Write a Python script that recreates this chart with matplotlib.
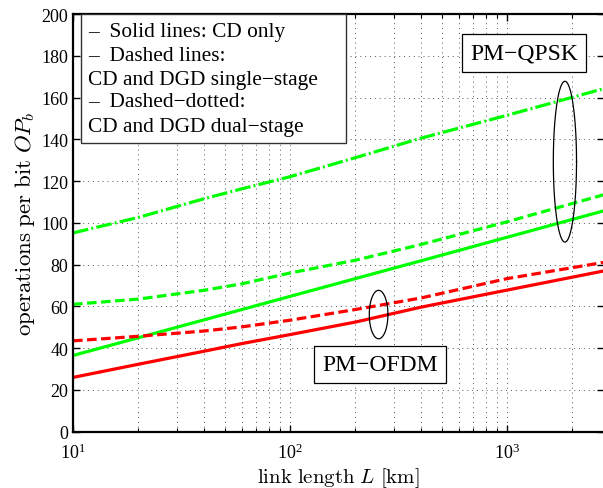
import numpy as np
import matplotlib
matplotlib.use("Agg")
import matplotlib.pyplot as plt
from matplotlib.patches import Rectangle
from matplotlib.ticker import LogLocator, MultipleLocator, NullFormatter

plt.rcParams['font.family'] = 'serif'
plt.rcParams['font.serif'] = ['Liberation Serif', 'DejaVu Serif']
plt.rcParams['mathtext.fontset'] = 'cm'

# ------------------------- data -------------------------
# link length L [km]
L = [10, 20, 40, 60, 100, 200, 400, 1000, 2800]

# PM-QPSK (green)
qpsk_cd = [36.5, 45.0, 53.5, 58.5, 64.8, 73.3, 81.8, 93.1, 105.8]
qpsk_single = [61.0, 63.5, 67.7, 70.8, 76.0, 82.1, 89.6, 100.5, 113.5]
qpsk_dual = [95.2, 102.6, 111.5, 116.3, 122.1, 131.2, 140.5, 151.5, 164.3]

# PM-OFDM (red)
ofdm_cd = [26.0, 32.3, 38.5, 42.2, 46.5, 52.5, 59.6, 67.8, 77.0]
ofdm_single = [43.5, 45.7, 48.2, 50.2, 53.4, 58.5, 64.0, 73.3, 81.1]

legend_lines = ['\u2013  Solid lines: CD only',
                '\u2013  Dashed lines:',
                'CD and DGD single\u2212stage',
                '\u2013  Dashed\u2212dotted:',
                'CD and DGD dual\u2212stage']

# ellipses marking each group: centre L, centre OP, half width (decades), half height
qpsk_ell = (1849, 129.3, 0.0535, 38.5)
ofdm_ell = (256, 56.1, 0.043, 11.6)

# ---------------------------------- figure ----------------------------------
fig = plt.figure(figsize=(6.03, 4.89), dpi=100)
ax = fig.add_axes([0.1211, 0.1151, 0.8806, 0.8542])

green = '#00ff00'
red = '#ff0000'
lw = 2.3

ax.plot(L, qpsk_cd, '-', color=green, lw=lw)
ax.plot(L, qpsk_single, color=green, lw=lw, ls=(0, (3.0, 1.4)))
ax.plot(L, qpsk_dual, color=green, lw=lw, ls=(0, (4.9, 1.0, 0.6, 1.0)))
ax.plot(L, ofdm_cd, '-', color=red, lw=lw)
ax.plot(L, ofdm_single, color=red, lw=lw, ls=(0, (3.0, 1.4)))

# ellipses (drawn in log-x space)
t = np.linspace(0, 2 * np.pi, 200)
for cx, cy, hw, hh in (qpsk_ell, ofdm_ell):
    ax.plot(10 ** (np.log10(cx) + hw * np.cos(t)), cy + hh * np.sin(t),
            color='black', lw=0.9)

ax.set_xscale('log')
ax.set_xlim(10, 2800)
ax.set_ylim(0, 200)
ax.yaxis.set_major_locator(MultipleLocator(20))
ax.xaxis.set_major_locator(LogLocator(base=10))
ax.xaxis.set_minor_locator(LogLocator(base=10, subs=np.arange(2, 10)))
ax.xaxis.set_minor_formatter(NullFormatter())

grid_kw = dict(ls=(0, (1, 4)), color='#555555', lw=0.7)
ax.grid(True, which='major', **grid_kw)
ax.grid(True, which='minor', axis='x', **grid_kw)

ax.tick_params(which='both', direction='in', top=True, right=True, labelsize=13)
ax.tick_params(which='major', length=5, width=1.0)
ax.tick_params(which='minor', length=3, width=0.8)
ax.tick_params(axis='x', pad=8)
for s in ax.spines.values():
    s.set_linewidth(1.6)

ax.set_xlabel(r'$\mathrm{link\ length}\ L\ \mathrm{[km]}$', fontsize=15, labelpad=2)
ax.set_ylabel(r'$\mathrm{operations\ per\ bit}\ OP_b$', fontsize=16.5, labelpad=3)

# legend-like note box in the top-left corner
ax.add_patch(Rectangle((0.015, 0.691), 0.499, 0.309, transform=ax.transAxes,
                       fc='white', ec='#333333', lw=1.0, zorder=5))
baselines = [0.948, 0.890, 0.833, 0.780, 0.721]
for txt, yb in zip(legend_lines, baselines):
    ax.text(0.028, yb, txt, transform=ax.transAxes, fontsize=15.4,
            va='baseline', ha='left', zorder=6)

ax.text(1197, 181.4, 'PM\u2212QPSK', fontsize=17, ha='center', va='center',
        bbox=dict(boxstyle='square,pad=0.35', fc='white', ec='black', lw=0.9))
ax.text(260, 32.2, 'PM\u2212OFDM', fontsize=17, ha='center', va='center',
        bbox=dict(boxstyle='square,pad=0.35', fc='white', ec='black', lw=0.9))

fig.savefig('out.png', dpi=100)
